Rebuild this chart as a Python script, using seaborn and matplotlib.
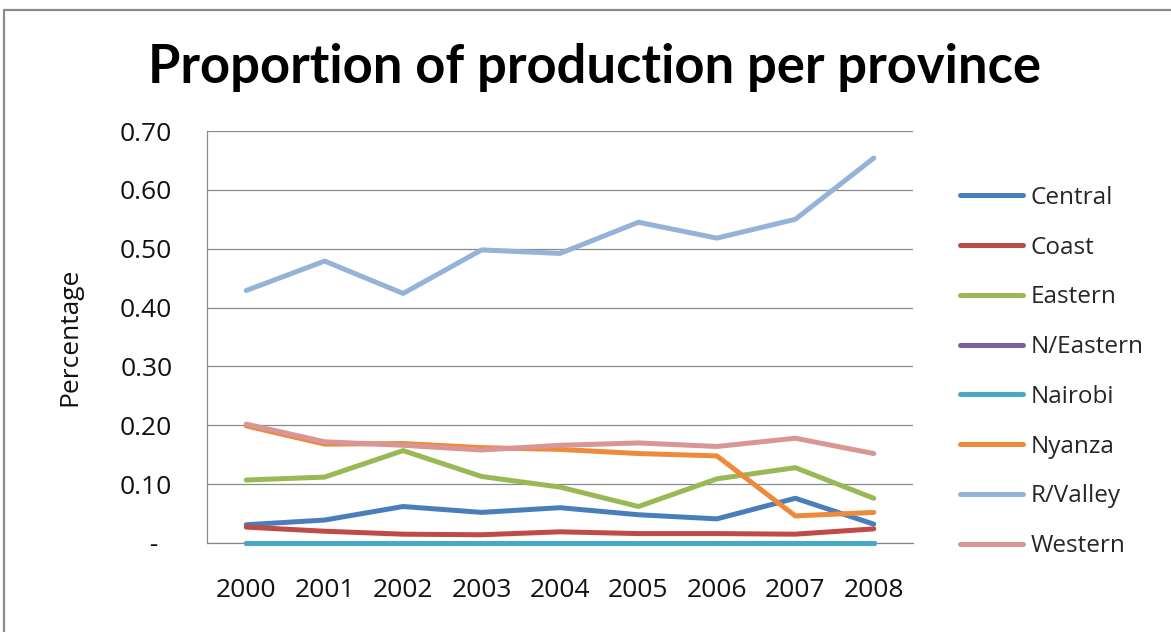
import numpy as np
import pandas as pd
import matplotlib
matplotlib.use("Agg")
import matplotlib.pyplot as plt
from matplotlib.patches import Rectangle
from matplotlib.ticker import FuncFormatter
import seaborn as sns

# Share of national production by province, 2000-2008
years = ["2000", "2001", "2002", "2003", "2004", "2005", "2006", "2007", "2008"]
central = [0.031, 0.039, 0.062, 0.052, 0.060, 0.048, 0.041, 0.076, 0.032]
coast = [0.027, 0.020, 0.015, 0.014, 0.019, 0.016, 0.016, 0.015, 0.024]
eastern = [0.107, 0.112, 0.157, 0.113, 0.095, 0.062, 0.109, 0.128, 0.076]
n_eastern = [0.000, 0.000, 0.000, 0.000, 0.000, 0.000, 0.000, 0.000, 0.000]
nairobi = [0.000, 0.000, 0.000, 0.000, 0.000, 0.000, 0.000, 0.000, 0.000]
nyanza = [0.199, 0.168, 0.169, 0.162, 0.159, 0.152, 0.148, 0.046, 0.052]
r_valley = [0.429, 0.479, 0.424, 0.498, 0.492, 0.545, 0.518, 0.550, 0.654]
western = [0.202, 0.172, 0.166, 0.158, 0.166, 0.170, 0.164, 0.178, 0.152]

provinces = ["Central", "Coast", "Eastern", "N/Eastern", "Nairobi",
             "Nyanza", "R/Valley", "Western"]
series = [central, coast, eastern, n_eastern, nairobi, nyanza, r_valley, western]
colors = ["#4A7EBB", "#BE4B48", "#98B954", "#7D60A0", "#46AAC5",
          "#EE8A3C", "#95B3D7", "#D99694"]

df = pd.DataFrame({
    "Year": np.tile(years, len(provinces)),
    "Province": np.repeat(provinces, len(years)),
    "Share": np.concatenate(series),
})

sns.set_theme(style="white")
plt.rcParams["font.family"] = ["Open Sans", "DejaVu Sans"]

W, H = 1171, 632
fig = plt.figure(figsize=(W / 100, H / 100), dpi=100)
ax = fig.add_axes([207 / W, 1 - 543 / H, (913 - 207) / W, (543 - 131) / H])

sns.lineplot(data=df, x="Year", y="Share", hue="Province",
             hue_order=provinces, palette=dict(zip(provinces, colors)),
             linewidth=3.6, sort=False, ax=ax)
# lines sitting on the zero baseline stay fully visible
for line in ax.get_lines():
    line.set_clip_on(False)

ax.set_xlim(-0.5, len(years) - 0.5)
ax.set_ylim(0, 0.70)
ax.set_yticks(np.arange(0, 0.71, 0.10))
ax.yaxis.set_major_formatter(FuncFormatter(
    lambda v, _: " -  " if abs(v) < 1e-9 else f"{v:.2f}"))

grid_color = "#8A8A8A"
ax.grid(axis="y", color=grid_color, linewidth=0.9)
ax.set_axisbelow(True)
for side in ("top", "right"):
    ax.spines[side].set_visible(False)
for side in ("left", "bottom"):
    ax.spines[side].set_color(grid_color)
    ax.spines[side].set_linewidth(0.9)
    ax.spines[side].set_zorder(0.5)

ax.tick_params(axis="y", length=0, pad=25, labelsize=19, labelcolor="#111111")
ax.tick_params(axis="x", length=0, pad=25, labelsize=19, labelcolor="#111111")
ax.set_xlabel("")
ax.set_ylabel("Percentage", fontsize=19, labelpad=27, color="#111111")

handles, labels = ax.get_legend_handles_labels()
ax.legend(handles, labels, loc="center left",
          bbox_to_anchor=(960 / W, 1 - 372 / H), bbox_transform=fig.transFigure,
          frameon=False, fontsize=17.5, handlelength=2.6, handletextpad=0.3,
          labelspacing=1.06, borderpad=0, borderaxespad=0)

fig.text(594 / W, 1 - 67 / H, "Proportion of production per province",
         ha="center", va="center", fontsize=37.8, fontweight="bold",
         family=["Lato", "DejaVu Sans"], color="#000000")

# Chart frame
fig.patches.append(Rectangle((4 / W, -0.1), 1.2, 1.1 - 10 / H,
                             transform=fig.transFigure, fill=False,
                             edgecolor="#8C8C8C", linewidth=1.6, clip_on=False))

fig.savefig("out.png", dpi=100)
